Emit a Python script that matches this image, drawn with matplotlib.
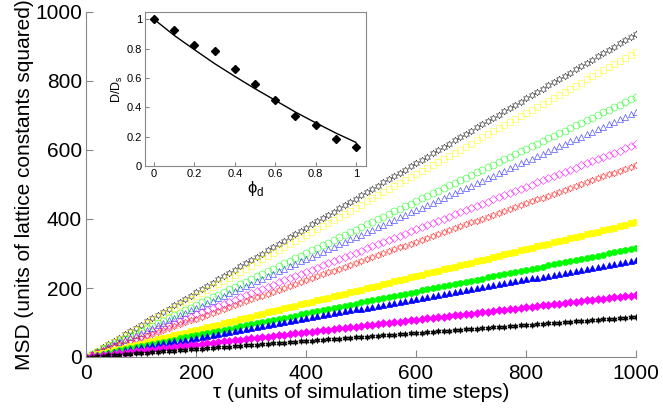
import numpy as np
import matplotlib.pyplot as plt

plt.rcParams['font.family'] = ['Liberation Sans', 'DejaVu Sans']

# time lags (every 10 steps)
tau = np.arange(0, 1001, 10)

# MSD reached at tau = 1000 for each run
msd_end_open = [937, 884, 754, 710, 617, 557]
msd_end_filled = [391, 316, 281, 180, 116]
colors_open = ['#000000', '#ffff00', '#00ff00', '#0000ff', '#ff00ff', '#ff0000']
markers_open = [(6, 1, 0), 's', 'o', '^', 'D', (6, 1, 0)]
colors_filled = ['#ffff00', '#00ff00', '#0000ff', '#ff00ff', '#000000']
markers_filled = ['s', 'o', '^', 'D', (6, 1, 0)]

# inset: D/D_s vs phi_d
phi = [0, 0.1, 0.2, 0.3, 0.4, 0.5, 0.6, 0.7, 0.8, 0.9, 1.0]
D_ratio = [1.0, 0.93, 0.827, 0.782, 0.659, 0.561, 0.45, 0.339, 0.28, 0.186, 0.127]
D_fit = [1.0, 0.89, 0.793, 0.698, 0.611, 0.527, 0.448, 0.368, 0.295, 0.225, 0.161]

fig = plt.figure(figsize=(6.63, 4.18), dpi=100)
ax = fig.add_axes([86/663, 1-357/418, 550/663, 345/418])

for m, c, mk in zip(msd_end_open, colors_open, markers_open):
    ax.plot(tau, m*tau/1000., ls='none', marker=mk, mfc='none', mec=c,
            ms=5 if mk != 'D' else 4.2, mew=0.45, alpha=0.75)
for m, c, mk in zip(msd_end_filled, colors_filled, markers_filled):
    ax.plot(tau, m*tau/1000., ls='none', marker=mk, mfc=c, mec=c,
            ms=4.3 if mk != 'D' else 3.8, mew=0.5)

ax.set_xlim(0, 1000)
ax.set_ylim(0, 1000)
ax.set_xticks([0, 200, 400, 600, 800, 1000])
ax.set_yticks([0, 200, 400, 600, 800, 1000])
for s in ['top', 'right']:
    ax.spines[s].set_visible(False)
for s in ['left', 'bottom']:
    ax.spines[s].set_color('#888888')
ax.tick_params(direction='in', labelsize=15, color='#888888', length=5, pad=3)
ax.tick_params(axis='x', pad=5)
ax.set_xlabel('τ (units of simulation time steps)', fontsize=15, labelpad=0)
ax.set_ylabel('MSD (units of lattice constants squared)', fontsize=15, labelpad=1)

# inset
ins = fig.add_axes([145/663, 1-166/418, 221/663, 154/418])
ins.plot(phi, D_fit, 'k-', lw=1)
ins.plot(phi, D_ratio, 'kD', ms=4.5)
ins.set_xlim(-0.045, 1.05)
ins.set_ylim(0, 1.05)
ins.set_xticks([0, 0.2, 0.4, 0.6, 0.8, 1])
ins.set_xticklabels(['0', '0.2', '0.4', '0.6', '0.8', '1'])
ins.set_yticks([0, 0.2, 0.4, 0.6, 0.8, 1])
ins.set_yticklabels(['0', '0.2', '0.4', '0.6', '0.8', '1'])
for s in ins.spines.values():
    s.set_color('#888888')
ins.tick_params(direction='in', labelsize=8, color='#888888', length=3, pad=2)
ins.set_xlabel(r'ϕ$_\mathregular{d}$', fontsize=12, labelpad=0)
ins.set_ylabel(r'D/D$_\mathregular{s}$', fontsize=9, labelpad=1)

fig.savefig('out.png', dpi=100)
